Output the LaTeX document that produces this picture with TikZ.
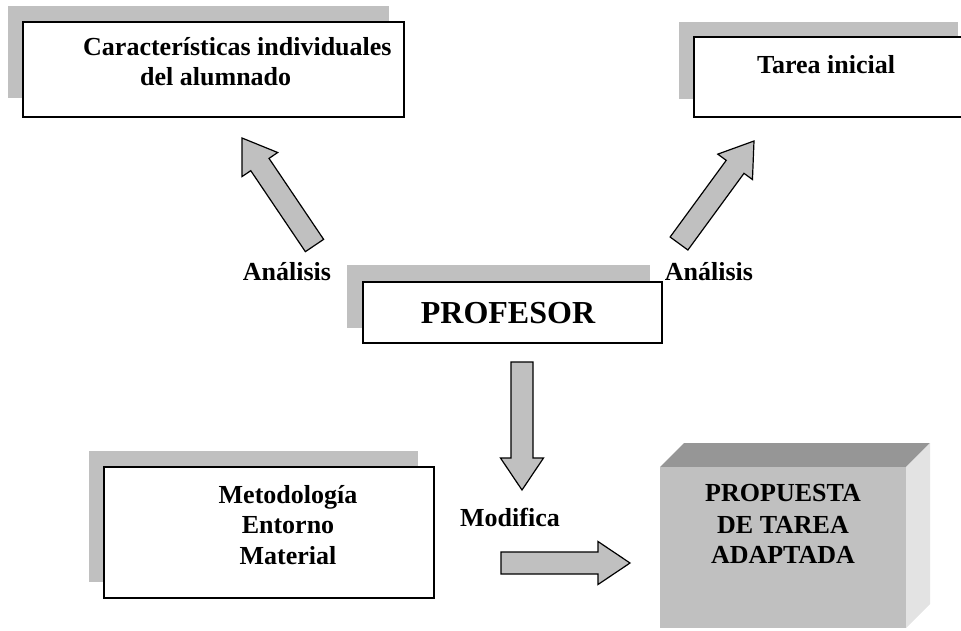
\documentclass[tikz,border=0pt]{standalone}
\usepackage{fontspec}
\setmainfont{Liberation Serif}
\usetikzlibrary{calc}
\definecolor{shade}{HTML}{C0C0C0}
\definecolor{cubetop}{HTML}{969696}
\definecolor{cubeside}{HTML}{E3E3E3}
\tikzset{
 panel/.style={draw=black, line width=1.5pt, fill=white, rectangle, inner sep=0pt, outer sep=0pt},
 backplate/.style={fill=shade},
 lbl/.style={font=\fontsize{26}{30}\selectfont\bfseries, inner sep=0pt, anchor=base},
 blockarrow/.style={draw=black, line width=1.2pt, fill=shade, line join=miter},
}
\newcommand\blockarr[2]{%
 \coordinate (hb) at ($(#2)!32pt!(#1)$);
 \draw[blockarrow] ($(#1)!11pt!90:(#2)$) -- ($(hb)!11pt!90:(#2)$) -- ($(hb)!21.5pt!90:(#2)$) -- (#2) -- ($(hb)!21.5pt!-90:(#2)$) -- ($(hb)!11pt!-90:(#2)$) -- ($(#1)!11pt!-90:(#2)$) -- cycle;}
\begin{document}
\begin{tikzpicture}[x=1pt,y=-1pt]
\useasboundingbox (0,0) rectangle (961,630);
% back plates
\fill[backplate] (8,6) rectangle (389,98);
\fill[backplate] (679,22) rectangle (958,99);
\fill[backplate] (347,265) rectangle (650,328);
\fill[backplate] (89,451) rectangle (418,582);
% panels
\node[panel, minimum width=381pt, minimum height=95pt] (alumnado) at (213.5,69.5) {};
\node[panel, minimum width=269pt, minimum height=80pt] (tarea) at (828.5,77) {};
\node[panel, minimum width=299pt, minimum height=61pt] (profesor) at (512.5,312.5) {};
\node[panel, minimum width=330pt, minimum height=131pt] (metodo) at (269,532.5) {};
% cube
\fill[cubetop] (660,467) -- (684,443) -- (930,443) -- (906,467) -- cycle;
\fill[cubeside] (906,467) -- (930,443) -- (930,604) -- (906,628) -- cycle;
\node[fill=shade, minimum width=246pt, minimum height=161pt, inner sep=0pt, outer sep=0pt] (propuesta) at (783,547.5) {};
% texts
\node[lbl, anchor=base west] (c1a) at (83,55) {Características individuales};
\node[lbl, anchor=base west] (c1b) at (140,85) {del alumnado};
\node[lbl] (t1) at (826,73) {Tarea inicial};
\node[lbl, font=\fontsize{32}{36}\selectfont\bfseries] (p1) at (508,323) {PROFESOR};
\node[lbl] (m1) at (288,503) {Metodología};
\node[lbl] (m2) at (288,533) {Entorno};
\node[lbl] (m3) at (288,564) {Material};
\node[lbl] (pr1) at (783,501) {PROPUESTA};
\node[lbl] (pr2) at (783,533) {DE TAREA};
\node[lbl] (pr3) at (783,563) {ADAPTADA};
\node[lbl] (an1) at (287,280) {Análisis};
\node[lbl] (an2) at (709,280) {Análisis};
\node[lbl] (mod) at (510,526) {Modifica};
% arrows
\coordinate (lt) at (314.5,245.5); \coordinate (lh) at (242,138);
\coordinate (rt) at (679,243.5); \coordinate (rh) at (754,141);
\coordinate (dt) at (522,362); \coordinate (dh) at (522,490);
\coordinate (bt) at (501,563); \coordinate (bh) at (630,563);
\blockarr{lt}{lh}
\blockarr{rt}{rh}
\blockarr{dt}{dh}
\blockarr{bt}{bh}
\end{tikzpicture}
\end{document}
